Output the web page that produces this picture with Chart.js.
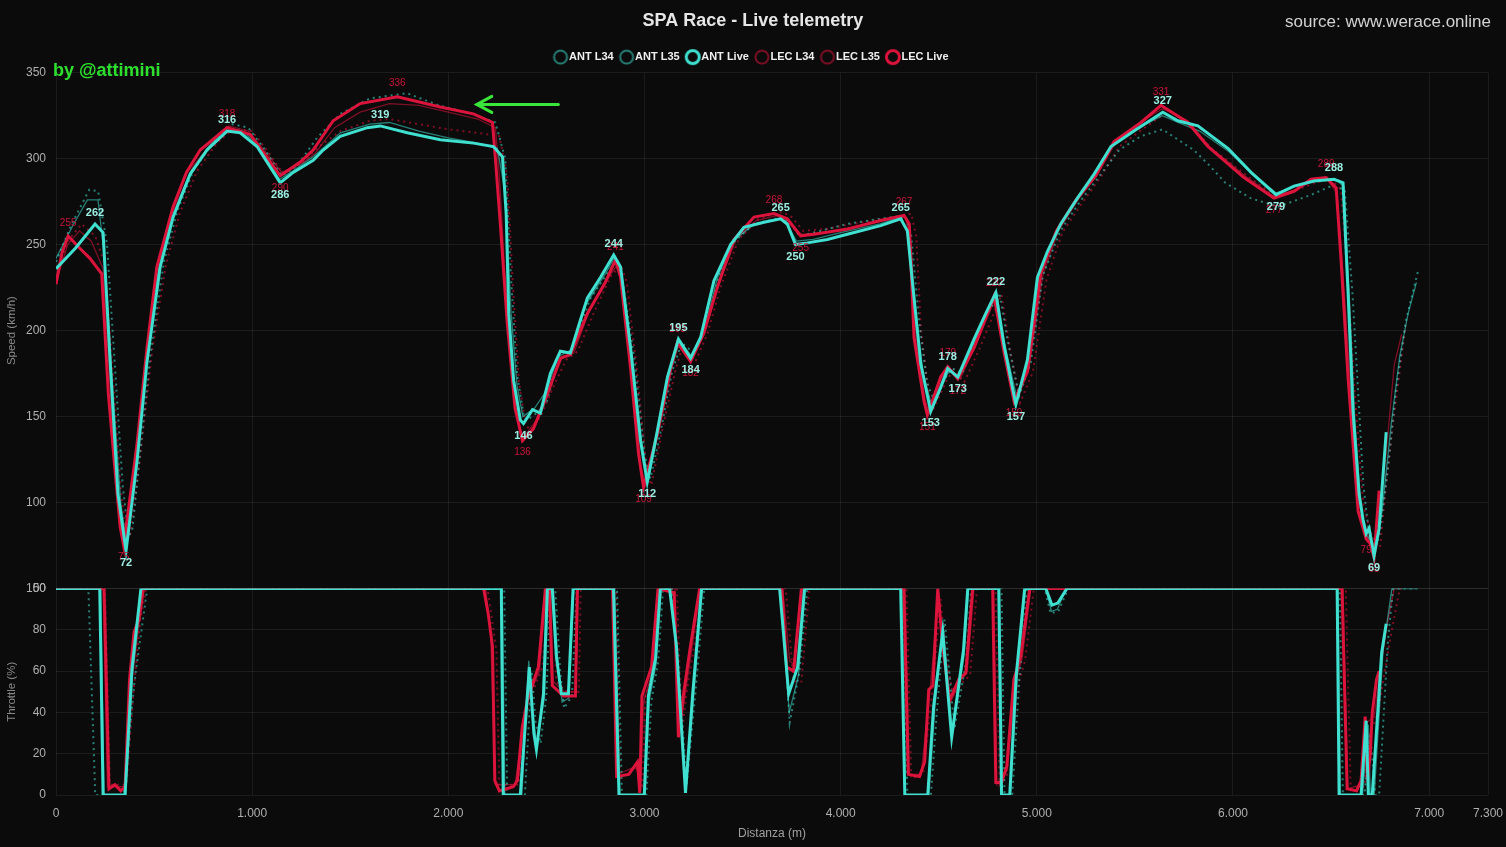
<!DOCTYPE html>
<html>
<head>
<meta charset="utf-8">
<script src="https://cdn.jsdelivr.net/npm/chart.js@4.4.1/dist/chart.umd.min.js"></script>
<style>
  html, body { margin: 0; padding: 0; background: #0b0b0b; }
  canvas { display: block; }
</style>
</head>
<body>
<canvas id="telemetry" width="1506" height="847"></canvas>
<script>
// Axis ticks
const xTicks = [0, 1000, 2000, 3000, 4000, 5000, 6000, 7000, 7300];
const speedTicks = [50, 100, 150, 200, 250, 300, 350];
const throttleTicks = [0, 20, 40, 60, 80, 100];

const seriesNames = ['ANT L34', 'ANT L35', 'ANT Live', 'LEC L34', 'LEC L35', 'LEC Live'];

// Speed traces [distance m, km/h]
const antL34Speed = [[0,242],[90,262],[160,276],[214,276],[250,240],[290,165],[330,100],[360,76],[400,110],[450,175],[520,234],[590,265],[680,290],[770,306],[870,318],[950,316],[1030,308],[1140,288],[1210,293],[1310,301],[1450,315],[1600,320],[1700,321],[1850,316],[2000,312],[2150,309],[2250,306],[2290,280],[2320,210],[2350,168],[2380,150],[2440,155],[2500,165],[2560,185],[2630,189],[2700,215],[2800,233],[2845,242],[2880,236],[2940,182],[2990,130],[3020,113],[3070,142],[3130,178],[3180,194],[3240,185],[3300,198],[3370,230],[3450,252],[3560,262],[3690,265],[3730,261],[3775,252],[3860,253],[4000,257],[4200,262],[4310,266],[4345,255],[4385,210],[4420,175],[4465,156],[4515,168],[4555,177],[4605,173],[4670,190],[4795,222],[4840,190],[4900,160],[4960,184],[5010,230],[5100,258],[5200,276],[5300,292],[5390,308],[5500,317],[5640,325],[5720,321],[5830,316],[5980,304],[6100,291],[6220,280],[6320,284],[6420,287],[6520,288],[6565,284],[6595,215],[6620,150],[6650,100],[6675,82],[6700,78],[6725,72],[6760,95],[6806,145],[6850,185],[6893,210],[6935,228]];
const antL35Speed = [[0,240],[80,262],[170,282],[215,281],[260,250],[300,180],[340,110],[370,80],[390,85],[430,130],[480,185],[550,240],[620,270],[700,293],[800,309],[900,320],[980,318],[1060,306],[1150,290],[1230,296],[1330,312],[1450,326],[1600,335],[1790,338],[1950,331],[2120,326],[2240,321],[2290,300],[2320,230],[2350,175],[2385,150],[2400,148],[2450,152],[2500,158],[2560,182],[2640,190],[2720,218],[2850,240],[2880,236],[2950,182],[3000,128],[3030,114],[3080,140],[3140,176],[3190,193],[3250,187],[3310,200],[3380,232],[3460,252],[3560,262],[3700,266],[3740,263],[3790,255],[3900,258],[4030,262],[4200,265],[4330,267],[4360,255],[4400,205],[4440,170],[4480,158],[4530,172],[4570,178],[4620,175],[4700,200],[4810,222],[4850,195],[4910,162],[4970,182],[5030,232],[5120,258],[5220,275],[5320,290],[5420,305],[5530,313],[5640,317],[5800,305],[5880,296],[5960,286],[6090,277],[6230,272],[6400,279],[6500,284],[6570,282],[6610,220],[6640,160],[6665,110],[6690,85],[6720,74],[6745,80],[6790,120],[6830,165],[6880,205],[6944,235]];
const antLiveSpeed = [[0,236],[100,248],[199,262],[240,257],[276,182],[316,105],[357,72],[413,124],[464,182],[531,237],[597,266],[684,291],[770,305],[872,316],[939,315],[1025,307],[1143,286],[1209,292],[1311,299],[1362,305],[1449,313],[1587,318],[1653,319],[1791,315],[1959,311],[2128,309],[2230,307],[2276,301],[2295,268],[2308,210],[2333,171],[2367,148],[2383,146],[2429,154],[2469,152],[2520,175],[2571,188],[2622,187],[2673,206],[2709,219],[2776,231],[2843,244],[2878,237],[2929,190],[2980,136],[3014,112],[3066,142],[3117,173],[3173,195],[3235,184],[3286,196],[3354,229],[3439,250],[3507,260],[3609,263],[3694,265],[3728,262],[3770,250],[3830,251],[3932,253],[4034,256],[4204,261],[4306,265],[4340,258],[4374,219],[4408,181],[4459,153],[4510,167],[4546,178],[4597,173],[4680,195],[4740,210],[4791,222],[4832,192],[4893,157],[4952,183],[5003,231],[5054,246],[5122,262],[5207,277],[5292,291],[5378,307],[5495,316],[5642,327],[5719,322],[5821,319],[5974,306],[6092,292],[6219,279],[6311,284],[6413,287],[6515,288],[6561,286],[6587,221],[6612,153],[6643,105],[6663,90],[6679,82],[6694,85],[6719,69],[6745,85],[6781,141]];
const lecL34Speed = [[0,228],[60,250],[120,258],[180,252],[240,236],[275,170],[310,110],[340,80],[360,78],[420,135],[470,188],[530,240],[600,270],[700,296],[800,310],[880,319],[980,316],[1060,305],[1150,292],[1250,297],[1320,303],[1420,318],[1550,327],[1700,332],[1850,331],[2000,327],[2150,323],[2240,318],[2260,290],[2290,230],[2330,165],[2370,140],[2390,139],[2450,148],[2510,165],[2580,184],[2640,187],[2720,212],[2810,230],[2860,238],[2890,228],[2940,175],[2980,122],[3005,110],[3070,140],[3140,178],[3175,192],[3240,183],[3310,200],[3380,228],[3470,254],[3570,264],[3680,267],[3740,262],[3800,256],[3900,257],[4050,260],[4220,264],[4330,266],[4360,250],[4385,195],[4430,160],[4450,153],[4520,172],[4555,178],[4610,172],[4690,192],[4790,219],[4840,186],[4895,158],[4960,178],[5030,232],[5110,258],[5210,276],[5310,291],[5400,309],[5540,322],[5640,329],[5770,322],[5880,307],[6060,290],[6210,278],[6320,282],[6410,287],[6480,288],[6530,280],[6560,235],[6600,165],[6645,98],[6690,80],[6730,72],[6760,105],[6790,140],[6822,180],[6860,198]];
const lecL35Speed = [[0,232],[60,252],[130,262],[200,255],[250,238],[290,175],[330,108],[360,80],[380,82],[430,128],[490,188],[560,238],[630,268],[720,293],[820,309],[900,317],[1000,316],[1080,304],[1160,291],[1260,298],[1340,307],[1450,316],[1600,322],[1700,323],[1850,320],[2000,317],[2150,315],[2260,313],[2300,290],[2330,225],[2360,170],[2395,145],[2420,142],[2470,150],[2530,166],[2600,183],[2660,188],[2740,210],[2830,232],[2880,238],[2910,228],[2960,178],[3010,120],[3035,110],[3090,142],[3160,178],[3195,191],[3260,182],[3320,198],[3390,226],[3480,253],[3580,265],[3700,269],[3750,266],[3810,258],[3920,259],[4060,262],[4230,265],[4360,268],[4385,255],[4410,200],[4450,162],[4475,155],[4540,171],[4575,177],[4630,170],[4710,190],[4820,221],[4865,188],[4915,158],[4980,176],[5050,230],[5130,257],[5230,274],[5330,290],[5420,307],[5550,318],[5650,326],[5780,320],[5890,306],[6070,290],[6220,278],[6330,282],[6420,286],[6500,288],[6550,282],[6585,230],[6620,165],[6665,98],[6710,80],[6750,74],[6780,110],[6820,150],[6880,203]];
const lecLiveSpeed = [[0,227],[30,245],[62,255],[120,248],[173,242],[233,233],[267,163],[300,120],[327,86],[345,75],[413,134],[464,190],[514,237],[597,272],[665,292],[735,305],[872,318],[990,314],[1060,303],[1143,290],[1245,298],[1311,305],[1413,322],[1551,332],[1740,336],[1959,330],[2128,326],[2225,321],[2240,300],[2265,262],[2300,205],[2340,155],[2378,136],[2434,143],[2505,163],[2571,184],[2622,186],[2709,210],[2800,228],[2852,241],[2878,231],[2929,178],[2970,128],[2995,109],[3066,140],[3133,178],[3168,193],[3235,182],[3301,198],[3371,225],[3456,253],[3558,266],[3660,268],[3728,265],[3796,255],[3864,256],[4034,259],[4204,264],[4323,267],[4350,262],[4374,196],[4425,159],[4442,151],[4510,173],[4546,179],[4597,172],[4680,190],[4782,220],[4832,188],[4884,159],[4952,176],[5020,233],[5100,258],[5200,276],[5300,290],[5394,310],[5531,321],[5633,331],[5770,321],[5872,307],[6056,289],[6209,277],[6311,281],[6398,288],[6475,289],[6526,283],[6551,241],[6587,172],[6638,95],[6679,79],[6700,76],[6719,68],[6745,107]];

// Throttle traces [distance m, %]
const antL34Thr = [[0,100],[228,100],[245,0],[355,0],[390,58],[438,100],[2275,100],[2288,0],[2375,0],[2410,65],[2430,40],[2450,25],[2490,47],[2510,100],[2535,100],[2560,62],[2580,45],[2615,47],[2640,100],[2848,100],[2875,0],[3003,0],[3025,46],[3060,64],[3085,100],[3132,100],[3168,65],[3212,3],[3250,47],[3295,100],[3692,100],[3738,40],[3785,58],[3820,100],[4310,100],[4330,0],[4450,0],[4480,42],[4522,82],[4570,30],[4630,68],[4652,100],[4810,100],[4825,0],[4866,0],[4900,57],[4942,100],[5045,100],[5075,89],[5105,90],[5150,100],[6535,100],[6548,0],[6660,0],[6690,34],[6700,0],[6720,0],[6765,70],[6810,100],[6935,100]];
const antL35Thr = [[0,100],[165,100],[200,0],[345,0],[400,55],[465,100],[2285,100],[2300,0],[2390,0],[2425,60],[2445,35],[2470,25],[2500,48],[2520,100],[2545,100],[2570,60],[2590,42],[2630,48],[2655,100],[2860,100],[2885,0],[3010,0],[3035,45],[3070,65],[3095,100],[3140,100],[3175,60],[3215,5],[3260,50],[3305,100],[3700,100],[3740,35],[3790,60],[3830,100],[4320,100],[4340,0],[4460,0],[4490,40],[4530,85],[4580,32],[4640,65],[4665,100],[4820,100],[4835,0],[4875,0],[4910,55],[4950,100],[5040,100],[5070,88],[5110,89],[5160,100],[6545,100],[6560,0],[6670,0],[6700,30],[6725,0],[6745,0],[6790,75],[6816,100],[6944,100]];
const antLiveThr = [[0,100],[223,100],[240,0],[352,0],[387,61],[433,100],[2270,100],[2280,0],[2367,0],[2413,62],[2436,30],[2449,22],[2485,49],[2505,100],[2530,100],[2551,67],[2576,49],[2612,49],[2636,100],[2842,100],[2870,0],[2999,0],[3020,48],[3056,66],[3081,100],[3128,100],[3163,72],[3209,1],[3245,48],[3291,100],[3689,100],[3735,49],[3781,62],[3816,100],[4306,100],[4327,0],[4444,0],[4474,43],[4520,79],[4566,28],[4626,70],[4648,100],[4806,100],[4820,0],[4862,0],[4895,58],[4938,100],[5046,100],[5077,92],[5107,93],[5153,100],[6531,100],[6541,0],[6653,0],[6679,36],[6690,0],[6710,0],[6758,69],[6781,83]];
const lecL34Thr = [[0,100],[240,100],[262,4],[350,4],[380,50],[420,80],[450,100],[2190,100],[2215,80],[2240,5],[2340,5],[2385,35],[2410,48],[2465,60],[2500,100],[2520,100],[2535,55],[2590,50],[2650,50],[2662,100],[2842,100],[2862,10],[2960,14],[2980,2],[2995,45],[3040,60],[3075,100],[3155,100],[3178,30],[3205,47],[3240,70],[3286,100],[3705,100],[3740,65],[3775,62],[3810,100],[4328,100],[4350,10],[4410,10],[4455,50],[4500,98],[4525,70],[4560,45],[4610,55],[4645,60],[4680,100],[4780,100],[4796,5],[4850,12],[4888,54],[4925,66],[4970,100],[6560,100],[6585,3],[6655,5],[6680,35],[6720,38],[6750,60],[6790,85],[6822,100],[6860,100]];
const lecL35Thr = [[0,100],[250,100],[275,5],[360,5],[395,50],[430,85],[460,100],[2200,100],[2245,70],[2260,5],[2360,5],[2400,40],[2430,50],[2480,62],[2515,100],[2535,100],[2550,55],[2605,50],[2665,50],[2675,100],[2855,100],[2875,8],[2975,14],[2990,3],[3005,48],[3050,60],[3085,100],[3165,100],[3190,30],[3215,50],[3250,70],[3295,100],[3720,100],[3760,55],[3800,55],[3840,100],[4335,100],[4360,8],[4420,10],[4465,48],[4510,95],[4535,68],[4575,48],[4625,55],[4660,58],[4695,100],[4790,100],[4810,5],[4865,12],[4900,52],[4940,65],[4985,100],[6575,100],[6600,3],[6670,4],[6700,30],[6740,40],[6770,58],[6810,80],[6850,100],[6880,100]];
const lecLiveThr = [[0,100],[245,100],[270,3],[300,5],[330,2],[352,4],[375,56],[398,79],[423,85],[445,100],[2180,100],[2203,88],[2225,72],[2237,7],[2260,2],[2331,4],[2352,7],[2377,33],[2403,46],[2459,62],[2495,100],[2515,100],[2530,53],[2587,48],[2648,48],[2658,100],[2837,100],[2858,9],[2920,10],[2964,16],[2976,1],[2987,48],[3036,62],[3069,100],[3151,98],[3173,28],[3199,49],[3234,72],[3281,100],[3700,100],[3725,62],[3760,60],[3800,100],[4322,100],[4345,10],[4402,9],[4428,16],[4449,51],[4470,53],[4495,100],[4520,72],[4556,46],[4602,56],[4638,59],[4673,100],[4775,100],[4791,6],[4820,6],[4847,14],[4883,56],[4918,67],[4964,100],[6556,100],[6582,3],[6630,2],[6653,7],[6674,38],[6685,7],[6700,20],[6710,40],[6732,56],[6745,60]];

// Distances of the labelled speed peaks / dips on the live laps
const antPeaks = [199, 872, 1653, 2843, 3173, 3694, 4306, 4546, 4791, 5642, 6515];
const antDips = [357, 1143, 2383, 3014, 3235, 3770, 4459, 4597, 4893, 6219, 6719];
const lecPeaks = [62, 872, 1740, 2852, 3168, 3660, 4323, 4546, 4782, 5633, 6475];
const lecDips = [345, 1143, 2378, 2995, 3235, 3796, 4442, 4597, 4884, 6209, 6679, 6719];

const ANT = '#40E0D0';
const LEC = '#DC143C';
const ANT_DIM = 'rgba(64,224,208,0.55)';
const LEC_DIM = 'rgba(220,20,60,0.55)';
const FONT = '"Liberation Sans", Arial, sans-serif';

const pts = arr => arr.map(([x, y]) => ({ x, y }));

function lap(label, data, axis, color, kind) {
    const ds = {
        label: label,
        data: pts(data),
        yAxisID: axis,
        borderColor: color,
        backgroundColor: 'transparent',
        pointRadius: 0,
        tension: 0,
        fill: false
    };
    if (kind === 'live') { ds.borderWidth = 3; ds.order = 0; }
    if (kind === 'thin') { ds.borderWidth = 1.3; ds.order = 2; }
    if (kind === 'dot') { ds.borderWidth = 2; ds.borderDash = [2, 4]; ds.order = 2; }
    return ds;
}

const datasets = [
    lap(seriesNames[0], antL34Speed, 'ySpeed', ANT_DIM, 'thin'),
    lap(seriesNames[1], antL35Speed, 'ySpeed', ANT_DIM, 'dot'),
    lap(seriesNames[2], antLiveSpeed, 'ySpeed', ANT, 'live'),
    lap(seriesNames[3], lecL34Speed, 'ySpeed', LEC_DIM, 'thin'),
    lap(seriesNames[4], lecL35Speed, 'ySpeed', LEC_DIM, 'dot'),
    lap(seriesNames[5], lecLiveSpeed, 'ySpeed', LEC, 'live'),
    lap(seriesNames[0] + ' thr', antL34Thr, 'yThr', ANT_DIM, 'thin'),
    lap(seriesNames[1] + ' thr', antL35Thr, 'yThr', ANT_DIM, 'dot'),
    lap(seriesNames[2] + ' thr', antLiveThr, 'yThr', ANT, 'live'),
    lap(seriesNames[3] + ' thr', lecL34Thr, 'yThr', LEC_DIM, 'thin'),
    lap(seriesNames[4] + ' thr', lecL35Thr, 'yThr', LEC_DIM, 'dot'),
    lap(seriesNames[5] + ' thr', lecLiveThr, 'yThr', LEC, 'live')
];
// live LEC under live ANT
datasets[5].order = 1;
datasets[11].order = 1;

const thousands = v => String(v).replace(/\B(?=(\d{3})+(?!\d))/g, '.');
const gridColor = 'rgba(255,255,255,0.07)';

// ring used as legend marker
function ring(color, lw) {
    const c = document.createElement('canvas');
    c.width = 18;
    c.height = 18;
    const g = c.getContext('2d');
    g.strokeStyle = color;
    g.lineWidth = lw;
    g.beginPath();
    g.arc(9, 9, 6.5, 0, Math.PI * 2);
    g.stroke();
    return c;
}

// value labels on the live speed traces
const peakLabels = {
    id: 'peakLabels',
    afterDatasetsDraw(chart) {
        const ctx = chart.ctx;
        const draw = (dsIndex, list, above, style) => {
            const meta = chart.getDatasetMeta(dsIndex);
            const data = chart.data.datasets[dsIndex].data;
            list.forEach(d => {
                const i = data.findIndex(p => p.x === d);
                if (i < 0) return;
                const el = meta.data[i];
                ctx.fillText(String(data[i].y), el.x, above ? el.y - style.up : el.y + style.down);
            });
        };
        ctx.save();
        ctx.textAlign = 'center';
        ctx.textBaseline = 'middle';
        ctx.font = '10px ' + FONT;
        ctx.fillStyle = '#c8163a';
        draw(5, lecPeaks, true, { up: 13, down: 12 });
        draw(5, lecDips, false, { up: 13, down: 12 });
        ctx.font = 'bold 11px ' + FONT;
        ctx.fillStyle = '#9defe3';
        draw(2, antPeaks, true, { up: 11, down: 12 });
        draw(2, antDips, false, { up: 11, down: 12 });
        ctx.restore();
    },
    afterDraw(chart) {
        const ctx = chart.ctx;
        const x = chart.scales.x, y = chart.scales.ySpeed;
        ctx.save();
        // credit + source
        ctx.font = 'bold 18px ' + FONT;
        ctx.fillStyle = '#2ee02e';
        ctx.textAlign = 'left';
        ctx.textBaseline = 'middle';
        ctx.fillText('by @attimini', 53, 71);
        ctx.font = '17px ' + FONT;
        ctx.fillStyle = '#d2d2d2';
        ctx.textAlign = 'right';
        ctx.fillText('source: www.werace.online', 1491, 22);
        // green arrow pointing at the straight
        const x0 = x.getPixelForValue(2561), x1 = x.getPixelForValue(2145);
        const yy = y.getPixelForValue(331.5);
        ctx.strokeStyle = '#3be63b';
        ctx.lineWidth = 3;
        ctx.lineCap = 'round';
        ctx.beginPath();
        ctx.moveTo(x0, yy);
        ctx.lineTo(x1, yy);
        ctx.moveTo(x1 + 15, yy - 8);
        ctx.lineTo(x1, yy);
        ctx.lineTo(x1 + 15, yy + 8);
        ctx.stroke();
        ctx.restore();
    }
};

const bgPlugin = {
    id: 'bg',
    beforeDraw(chart) {
        const ctx = chart.ctx;
        ctx.save();
        ctx.fillStyle = '#0b0b0b';
        ctx.fillRect(0, 0, chart.width, chart.height);
        ctx.restore();
    }
};

new Chart(document.getElementById('telemetry'), {
    type: 'line',
    data: { datasets: datasets },
    options: {
        responsive: false,
        animation: false,
        layout: { padding: { left: 0, right: 0, bottom: 0 } },
        scales: {
            x: {
                type: 'linear',
                min: 0,
                max: 7300,
                afterBuildTicks: axis => { axis.ticks = xTicks.map(v => ({ value: v })); },
                afterFit: axis => {
                    axis.height = 52;
                    axis.paddingRight = 18;
                },
                ticks: { color: '#b0b0b0', font: { size: 12, family: FONT }, padding: 11, callback: v => thousands(v), maxRotation: 0 },
                grid: { color: gridColor, drawTicks: false },
                border: { display: false },
                title: { display: true, text: 'Distanza (m)', color: '#a0a0a0', font: { size: 12, family: FONT }, padding: { top: 0, bottom: 6 } }
            },
            yThr: {
                type: 'linear',
                position: 'left',
                stack: 'tele',
                stackWeight: 1,
                min: 0,
                max: 100,
                afterBuildTicks: axis => { axis.ticks = throttleTicks.map(v => ({ value: v })); },
                afterFit: axis => { axis.width = 56; },
                ticks: { color: '#b0b0b0', font: { size: 12, family: FONT }, padding: 10 },
                grid: { color: gridColor, drawTicks: false },
                border: { display: false },
                title: { display: true, text: 'Throttle (%)', color: '#8a8a8a', font: { size: 11.5, family: FONT }, padding: { top: 5, bottom: 2 } }
            },
            ySpeed: {
                type: 'linear',
                position: 'left',
                stack: 'tele',
                stackWeight: 2.5,
                min: 50,
                max: 350,
                afterBuildTicks: axis => { axis.ticks = speedTicks.map(v => ({ value: v })); },
                afterFit: axis => { axis.width = 56; },
                ticks: { color: '#b0b0b0', font: { size: 12, family: FONT }, padding: 10 },
                grid: { color: gridColor, drawTicks: false },
                border: { display: false },
                title: { display: true, text: 'Speed (km/h)', color: '#8a8a8a', font: { size: 11.5, family: FONT }, padding: { top: 5, bottom: 2 } }
            }
        },
        plugins: {
            title: {
                display: true,
                text: 'SPA Race - Live telemetry',
                color: '#e6e6e6',
                font: { size: 18, weight: 'bold', family: FONT },
                padding: { top: 10, bottom: 10 }
            },
            legend: {
                position: 'top',
                labels: {
                    color: '#f0f0f0',
                    font: { size: 11, weight: 'bold', family: FONT },
                    usePointStyle: true,
                    pointStyleWidth: 6,
                    padding: 10,
                    generateLabels(chart) {
                        const items = Chart.defaults.plugins.legend.labels.generateLabels(chart);
                        return items
                            .filter(it => chart.data.datasets[it.datasetIndex].yAxisID === 'ySpeed')
                            .sort((a, b) => a.datasetIndex - b.datasetIndex)
                            .map(it => Object.assign(it, {
                                pointStyle: ring(it.strokeStyle, it.datasetIndex % 3 === 2 ? 3 : 2),
                                lineDash: [],
                                fillStyle: 'transparent'
                            }));
                    }
                }
            },
            tooltip: { enabled: false }
        }
    },
    plugins: [bgPlugin, peakLabels]
});
</script>
</body>
</html>
